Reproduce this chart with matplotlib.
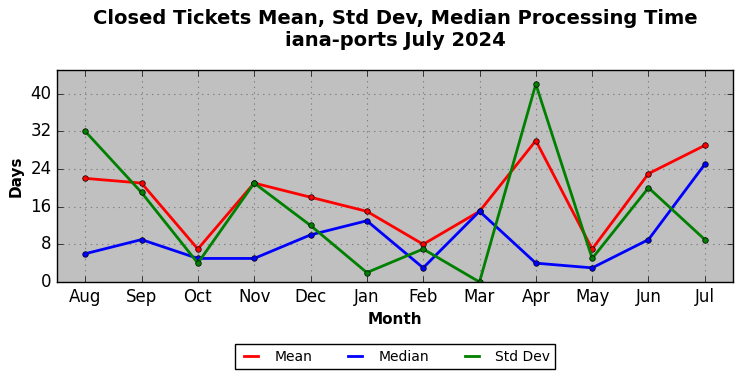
import matplotlib
matplotlib.use('Agg')
from matplotlib import pyplot as plt
from matplotlib.lines import Line2D

months = ['Aug', 'Sep', 'Oct', 'Nov', 'Dec', 'Jan', 'Feb', 'Mar', 'Apr', 'May', 'Jun', 'Jul']
mean_days = [22, 21, 7, 21, 18, 15, 8, 15, 30, 7, 23, 29]
median_days = [6, 9, 5, 5, 10, 13, 3, 15, 4, 3, 9, 25]
std_days = [32, 19, 4, 21, 12, 2, 7, 0, 42, 5, 20, 9]
y_ticks = [0, 8, 16, 24, 32, 40]

plt.style.use('classic')

fig = plt.figure(figsize=(7.42, 3.78), dpi=100, facecolor='white')
ax = fig.add_axes([57 / 742, 1 - 282 / 378, (733 - 57) / 742, (282 - 70) / 378])
ax.set_facecolor('silver')

x = list(range(len(months)))
series = [(mean_days, 'red', 'Mean'), (median_days, 'blue', 'Median'), (std_days, 'green', 'Std Dev')]
for vals, col, name in series:
    ax.plot(x, vals, color=col, lw=2, marker='o', ms=4, mec='black', mew=0.5)

ax.set_xlim(-0.5, 11.5)
ax.set_ylim(0, 45)
ax.set_xticks(x)
ax.set_xticklabels(months)
ax.set_yticks(y_ticks)
ax.tick_params(labelsize=12)
ax.grid(True, linestyle=':', color='gray', lw=0.8)
ax.set_axisbelow(True)

ax.set_xlabel('Month', fontsize=11, fontweight='bold')
ax.set_ylabel('Days', fontsize=11, fontweight='bold')
fig.suptitle('Closed Tickets Mean, Std Dev, Median Processing Time\niana-ports July 2024',
             fontsize=14, fontweight='bold', x=395 / 742, y=0.975)

handles = [Line2D([], [], color=col, lw=2) for _, col, _ in series]
labels = [name for _, _, name in series]
ax.legend(handles, labels, loc='upper center', bbox_to_anchor=(0.5, -0.26), ncol=3, fontsize=10,
          frameon=True, fancybox=False, handlelength=1.6, handletextpad=0.85, columnspacing=2.3)

fig.savefig('out.png', dpi=100, facecolor='white')
